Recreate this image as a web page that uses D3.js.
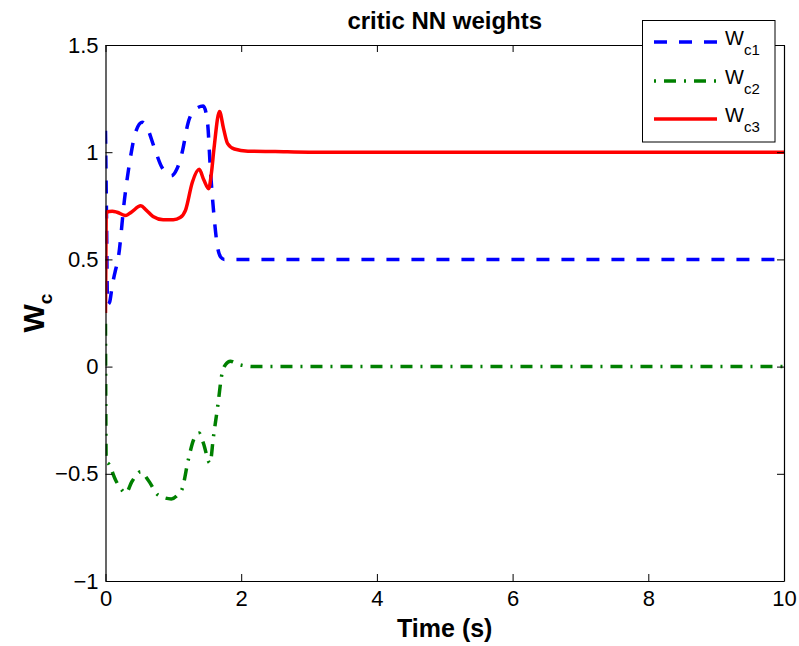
<!DOCTYPE html>
<html>
<head>
<meta charset="utf-8">
<script src="https://cdn.jsdelivr.net/npm/d3@7"></script>
<style>
  html, body { margin: 0; padding: 0; background: #fff; }
  svg { display: block; font-family: "Liberation Sans", Arial, Helvetica, sans-serif; }
</style>
</head>
<body>
<svg id="chart" width="799" height="646"></svg>
<script>
// Critic NN weight trajectories over time
const xTicks = [0, 2, 4, 6, 8, 10];
const yTicks = [-1, -0.5, 0, 0.5, 1, 1.5];

const tC1 = [0, 0.015, 0.03, 0.06, 0.1, 0.14, 0.19, 0.28, 0.37, 0.44, 0.54, 0.62, 0.71, 0.83, 0.97, 1.05, 1.13, 1.22, 1.32, 1.44, 1.5, 1.55, 1.6, 1.65, 1.7, 1.75, 1.85, 10];
const wc1 = [1.1, 0.7, 0.29, 0.3, 0.38, 0.44, 0.51, 0.78, 0.98, 1.09, 1.14, 1.11, 1.03, 0.93, 0.89, 0.92, 1.0, 1.14, 1.2, 1.215, 1.15, 0.9, 0.7, 0.56, 0.51, 0.5, 0.5, 0.5];

const tC2 = [0, 0.01, 0.05, 0.15, 0.22, 0.3, 0.39, 0.52, 0.63, 0.78, 0.97, 1.06, 1.13, 1.22, 1.3, 1.38, 1.44, 1.54, 1.59, 1.66, 1.71, 1.77, 1.84, 1.96, 2.2, 10];
const wc2 = [0.2, -0.44, -0.455, -0.53, -0.567, -0.59, -0.536, -0.49, -0.53, -0.6, -0.617, -0.6, -0.57, -0.435, -0.34, -0.31, -0.355, -0.45, -0.33, -0.17, -0.045, 0.01, 0.025, 0.01, 0.0, 0.0];

const tC3 = [0, 0.01, 0.1, 0.17, 0.3, 0.38, 0.52, 0.6, 0.7, 0.85, 1.0, 1.1, 1.18, 1.28, 1.38, 1.45, 1.52, 1.56, 1.6, 1.68, 1.74, 1.8, 1.9, 2.1, 2.5, 3, 10];
const wc3 = [0.25, 0.72, 0.725, 0.72, 0.705, 0.72, 0.75, 0.73, 0.70, 0.685, 0.685, 0.695, 0.73, 0.86, 0.92, 0.87, 0.83, 0.9, 1.02, 1.19, 1.11, 1.04, 1.015, 1.005, 1.003, 1.0, 1.0];

const seriesNames = ["c1", "c2", "c3"];
const seriesColors = ["#0000ff", "#008000", "#ff0000"];
const seriesDash = ["13,12", "12,8,2,8", null];

const series = [
  { name: seriesNames[0], t: tC1, v: wc1, color: seriesColors[0], dash: seriesDash[0] },
  { name: seriesNames[1], t: tC2, v: wc2, color: seriesColors[1], dash: seriesDash[1] },
  { name: seriesNames[2], t: tC3, v: wc3, color: seriesColors[2], dash: seriesDash[2] }
];

const svg = d3.select("#chart");
const m = { left: 105.5, right: 784, top: 45, bottom: 581 };

const x = d3.scaleLinear().domain([0, 10]).range([m.left, m.right]);
const y = d3.scaleLinear().domain([-1, 1.5]).range([m.bottom, m.top]);

// Plot area background
svg.append("rect")
  .attr("x", m.left).attr("y", m.top)
  .attr("width", m.right - m.left).attr("height", m.bottom - m.top)
  .attr("fill", "#fff");

// Curves, clipped to the axes box
svg.append("clipPath").attr("id", "plotClip")
  .append("rect")
  .attr("x", m.left).attr("y", m.top)
  .attr("width", m.right - m.left).attr("height", m.bottom - m.top);

const line = d3.line()
  .x(d => x(d[0]))
  .y(d => y(d[1]))
  .curve(d3.curveMonotoneX);

const plot = svg.append("g").attr("clip-path", "url(#plotClip)");
series.forEach(s => {
  plot.append("path")
    .attr("d", line(s.t.map((t, i) => [t, s.v[i]])))
    .attr("fill", "none")
    .attr("stroke", s.color)
    .attr("stroke-width", 3.5)
    .attr("stroke-dasharray", s.dash)
    .attr("stroke-linejoin", "round");
});

// Axes (ticks pointing inward, mirrored on top and right)
const tickLen = 7;
const axisStyle = g => {
  g.select(".domain").attr("stroke", "#000").attr("stroke-width", 1.2);
  g.selectAll(".tick line").attr("stroke", "#000").attr("stroke-width", 1);
  g.selectAll(".tick text").attr("fill", "#000").attr("font-size", 22);
};

svg.append("g")
  .attr("transform", `translate(0,${m.bottom})`)
  .call(d3.axisBottom(x).tickValues(xTicks).tickSize(-tickLen).tickPadding(9).tickSizeOuter(0)
    .tickFormat(d3.format("d")))
  .call(axisStyle);

svg.append("g")
  .attr("transform", `translate(0,${m.top})`)
  .call(d3.axisTop(x).tickValues(xTicks).tickSize(-tickLen).tickSizeOuter(0).tickFormat(""))
  .call(axisStyle);

svg.append("g")
  .attr("transform", `translate(${m.left},0)`)
  .call(d3.axisLeft(y).tickValues(yTicks).tickSize(-tickLen).tickPadding(7).tickSizeOuter(0)
    .tickFormat(d => d3.format("")(d).replace("-", "\u2212")))
  .call(axisStyle);

svg.append("g")
  .attr("transform", `translate(${m.right},0)`)
  .call(d3.axisRight(y).tickValues(yTicks).tickSize(-tickLen).tickSizeOuter(0).tickFormat(""))
  .call(axisStyle);

// Title and axis labels
svg.append("text")
  .attr("x", (m.left + m.right) / 2).attr("y", 29)
  .attr("text-anchor", "middle")
  .attr("font-size", 24).attr("font-weight", "bold")
  .text("critic NN weights");

svg.append("text")
  .attr("x", (m.left + m.right) / 2).attr("y", 637)
  .attr("text-anchor", "middle")
  .attr("font-size", 25).attr("font-weight", "bold")
  .text("Time (s)");

const yl = svg.append("text")
  .attr("transform", "translate(44,313) rotate(-90)")
  .attr("text-anchor", "middle")
  .attr("font-weight", "bold");
yl.append("tspan").attr("font-size", 30).text("W");
yl.append("tspan").attr("font-size", 19).attr("dy", 8).text("c");

// Legend
const lg = svg.append("g");
lg.append("rect")
  .attr("x", 642.5).attr("y", 20.5).attr("width", 132.5).attr("height", 121.5)
  .attr("fill", "#fff").attr("stroke", "#000").attr("stroke-width", 1);

const legendRows = [42, 81, 119];
series.forEach((s, i) => {
  const yy = legendRows[i];
  lg.append("line")
    .attr("x1", 654).attr("x2", 717).attr("y1", yy).attr("y2", yy)
    .attr("stroke", s.color).attr("stroke-width", 3.5)
    .attr("stroke-dasharray", s.dash)
    .attr("stroke-dashoffset", i === 1 ? 20 : 0);
  const t = lg.append("text").attr("x", 725).attr("y", yy + 3).attr("font-size", 20);
  t.append("tspan").text("W");
  t.append("tspan").attr("font-size", 15).attr("dy", 10).text(s.name);
});
</script>
</body>
</html>
